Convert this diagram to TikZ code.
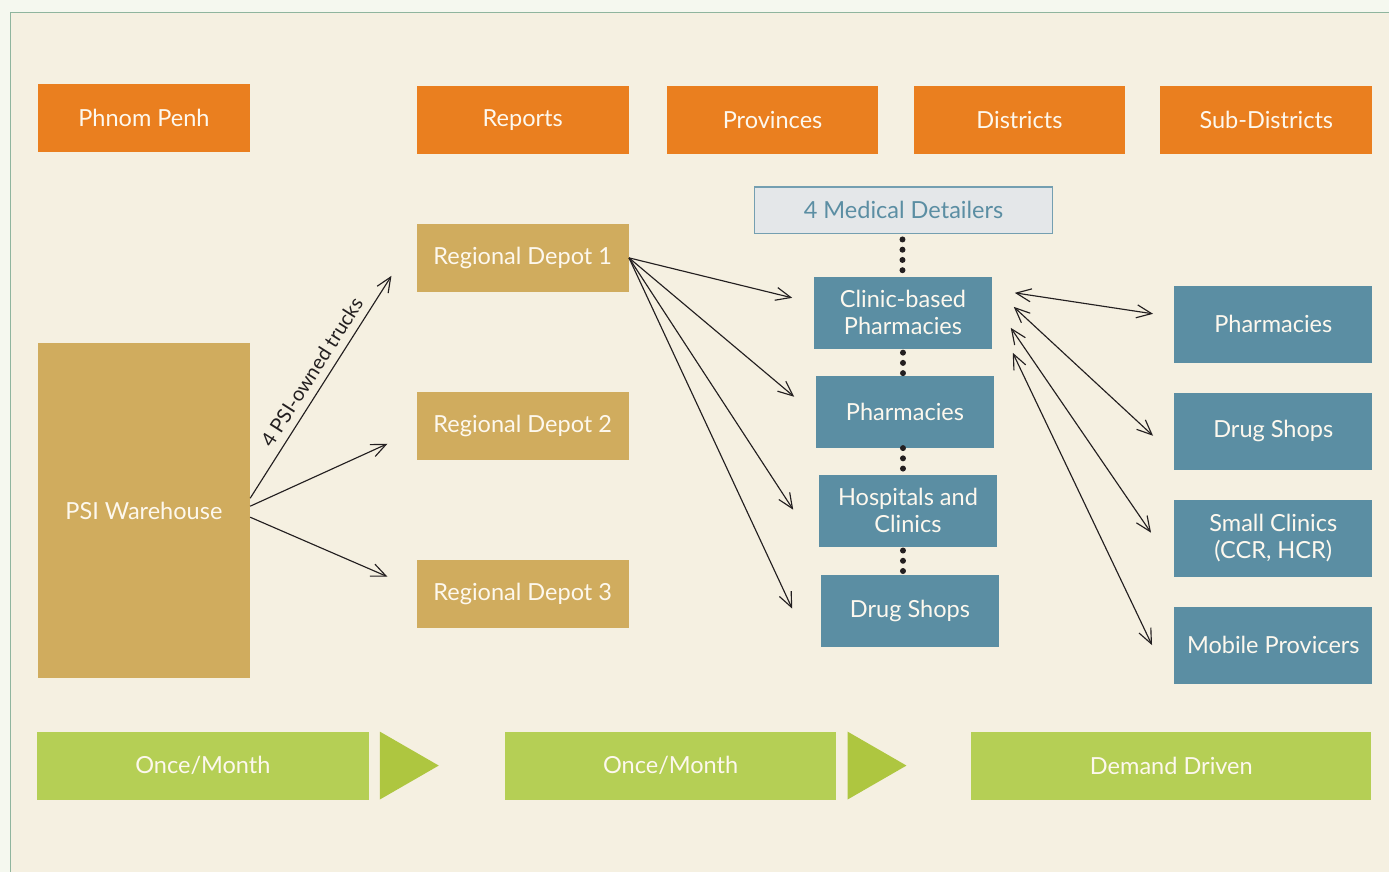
\documentclass[tikz,border=0pt]{standalone}
\usepackage{fontspec}
\setmainfont{Lato}
\usepackage{tikz}
\usetikzlibrary{arrows.meta}
\usetikzlibrary{positioning}

\definecolor{fondext}{HTML}{F5F8EF}
\definecolor{fondcreme}{HTML}{F5F0E1}
\definecolor{cadrevert}{HTML}{8FB59E}
\definecolor{orangepsi}{HTML}{EA7F1F}
\definecolor{ocrepsi}{HTML}{D0AC5E}
\definecolor{bleupsi}{HTML}{5B8EA3}
\definecolor{grispsi}{HTML}{E4E7E9}
\definecolor{vertpsi}{HTML}{B5CF55}
\definecolor{vertfleche}{HTML}{AEC640}
\definecolor{traitpsi}{HTML}{231F20}
\definecolor{textepsi}{HTML}{FDF8EE}

\newcommand{\taillebox}{\fontsize{13.4}{15.3}\selectfont}
\newcommand{\taillecamion}{\fontsize{11.4}{13}\selectfont}

\begin{document}
\begin{tikzpicture}[x=0.02cm,y=-0.02cm]
% définition des paramètres
\tikzstyle boitemichael=[text=textepsi,inner sep=0pt,align=center,font=\taillebox]
\tikzstyle orangemichael=[boitemichael,fill=orangepsi,minimum width=4.24cm,minimum height=1.36cm]
\tikzstyle ocremichael=[boitemichael,fill=ocrepsi,minimum width=4.24cm,minimum height=1.36cm]
\tikzstyle bleumichael=[boitemichael,fill=bleupsi,minimum width=3.58cm,minimum height=1.44cm]
\tikzstyle bleumichaell=[boitemichael,fill=bleupsi,minimum width=3.96cm,minimum height=1.54cm]
\tikzstyle vertmichael=[boitemichael,fill=vertpsi,minimum width=6.64cm,minimum height=1.36cm]
\tikzstyle grismichael=[boitemichael,fill=grispsi,draw=bleupsi!85,line width=0.7pt,text=bleupsi,minimum width=5.96cm,minimum height=0.94cm]
\tikzstyle flechemichael=[color=traitpsi,line width=0.65pt,-{Straight Barb[length=0.3cm,width=0.26cm]}]
\tikzstyle flechemichaell=[flechemichael,{Straight Barb[length=0.3cm,width=0.26cm]}-{Straight Barb[length=0.3cm,width=0.26cm]}]
\tikzstyle pointmichael=[color=traitpsi,line width=0.12cm,line cap=round,dash pattern=on 0pt off 0.205cm]

% le fond
\fill[fondext] (0,0) rectangle (1390,872);
\fill[fondcreme] (10.5,12.5) rectangle (1390,872);
\draw[cadrevert,line width=0.9pt] (10.5,872) -- (10.5,12.5) -- (1390,12.5);

% les en-têtes
\node[orangemichael] (pp) at (144,118) {Phnom Penh};
\node[orangemichael] (rep) at (523,120) {Reports};
\node[orangemichael] (prov) at (773,120) {Provinces};
\node[orangemichael] (dist) at (1020,120) {Districts};
\node[orangemichael] (sdist) at (1267,120) {Sub-Districts};

% l'entrepôt et les dépôts
\node[ocremichael,minimum height=6.7cm] (psi) at (144,511) {PSI Warehouse};
\node[ocremichael] (rd1) at (523,258) {Regional Depot 1};
\node[ocremichael] (rd2) at (523,426) {Regional Depot 2};
\node[ocremichael] (rd3) at (523,594) {Regional Depot 3};

% les provinces
\node[grismichael] (md) at (904,210.5) {4 Medical Detailers};
\node[bleumichael] (cbp) at (903.5,313) {Clinic-based\\Pharmacies};
\node[bleumichael] (ph) at (905.5,412) {Pharmacies};
\node[bleumichael] (hc) at (908.5,511) {Hospitals and\\Clinics};
\node[bleumichael] (ds) at (910.5,611) {Drug Shops};

% les districts
\node[bleumichaell] (sph) at (1274,324.5) {Pharmacies};
\node[bleumichaell] (sds) at (1274,431.5) {Drug Shops};
\node[bleumichaell] (scl) at (1274,538.5) {Small Clinics\\(CCR, HCR)};
\node[bleumichaell] (mob) at (1274,645.5) {Mobile Provicers};

% les fréquences
\node[vertmichael] (f1) at (203,766) {Once/Month};
\node[vertmichael] (f2) at (671,766) {Once/Month};
\node[vertmichael,minimum width=8cm] (f3) at (1172,766) {Demand Driven};
\fill[vertfleche] (380,732) -- (380,800) -- (439,766) -- cycle;
\fill[vertfleche] (848,732) -- (848,800) -- (907,766) -- cycle;

% les pointillés
\draw[pointmichael,shorten <=0.1cm,shorten >=0.12cm] ([xshift=-0.02cm]md.south) -- ([xshift=-0.02cm]md.south |- cbp.north);
\draw[pointmichael,shorten <=0.07cm,shorten >=0.0cm] (cbp.south) -- (cbp.south |- ph.north);
\draw[pointmichael,shorten <=0.0cm,shorten >=0.08cm] (cbp.south |- ph.south) -- (cbp.south |- hc.north);
\draw[pointmichael,shorten <=0.07cm,shorten >=0.02cm] (cbp.south |- hc.south) -- (cbp.south |- ds.north);

% les camions
\draw[flechemichael] ([yshift=0.25cm]psi.east) -- node[above=1pt,sloped,pos=0.53,text=traitpsi,font=\taillecamion] {4 PSI-owned trucks} ([xshift=-0.5cm,yshift=-0.36cm]rd1.west);
\draw[flechemichael] ([yshift=0.09cm]psi.east) -- ([xshift=-0.58cm,yshift=-0.36cm]rd2.west);
\draw[flechemichael] ([yshift=-0.13cm]psi.east) -- ([xshift=-0.58cm,yshift=0.34cm]rd3.west);

% dépôt 1 vers les provinces
\draw[flechemichael] (rd1.east) -- ([xshift=-0.42cm,yshift=0.3cm]cbp.west);
\draw[flechemichael] (rd1.east) -- ([xshift=-0.42cm,yshift=0.3cm]ph.west);
\draw[flechemichael] (rd1.east) -- ([xshift=-0.5cm,yshift=0.02cm]hc.west);
\draw[flechemichael] (rd1.east) -- ([xshift=-0.56cm,yshift=0.04cm]ds.west);

% provinces vers districts
\draw[flechemichaell] ([xshift=0.44cm,yshift=0.4cm]cbp.east) -- ([xshift=-0.42cm,yshift=0.21cm]sph.west);
\draw[flechemichaell] ([xshift=0.42cm,yshift=0.12cm]cbp.east) -- ([xshift=-0.42cm,yshift=-0.09cm]sds.west);
\draw[flechemichaell] ([xshift=0.36cm,yshift=-0.3cm]cbp.east) -- ([xshift=-0.46cm,yshift=0.11cm]scl.west);
\draw[flechemichaell] ([xshift=0.4cm,yshift=-0.8cm]cbp.east) -- ([xshift=-0.44cm]mob.west);
\end{tikzpicture}
\end{document}
